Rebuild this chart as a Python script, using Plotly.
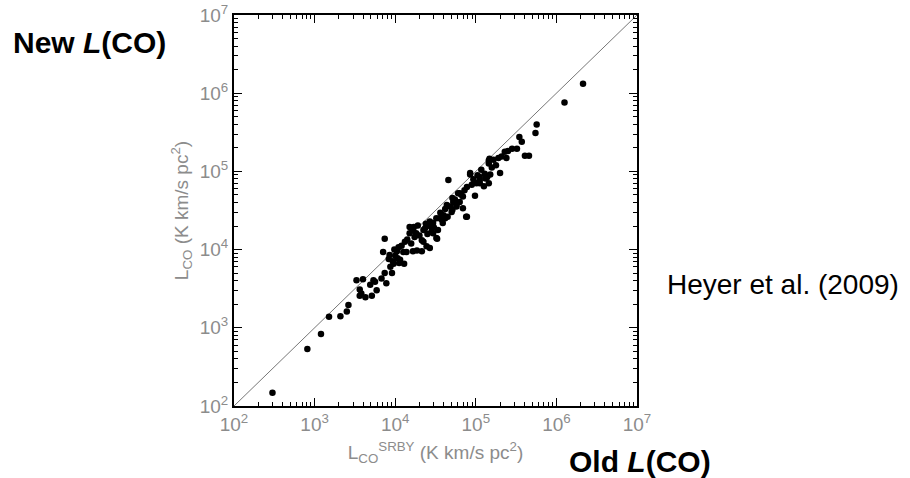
import plotly.graph_objects as go

# Old (SRBY) CO luminosities, K km/s pc^2
old_lco = [300, 813, 1200, 1510, 2090, 2510, 2630, 3310, 3980, 3630,
           3800, 3630, 4270, 5130, 4900, 5370, 5620, 5890, 6760, 7410,
           7760, 9120, 9550, 11200, 12900, 11500, 7410, 7080, 8510, 10000,
           10500, 11000, 9330, 9770, 10700, 12600, 13800, 15800, 16600, 18600,
           21400, 24500, 26900, 15100, 17000, 17400, 19100, 22400, 16600, 18200,
           15100, 21400, 23400, 26900, 32400, 28200, 33100, 39800, 43700, 52500,
           63100, 77600, 85100, 45700, 57500, 77600, 97700, 112000, 138000, 145000,
           26900, 29500, 32400, 35500, 38900, 29500, 33900, 44700, 51300, 57500,
           63100, 69200, 72400, 75900, 69200, 51300, 60300, 102000, 112000, 132000,
           145000, 126000, 138000, 2140000, 1260000, 569000, 550000, 347000, 372000, 407000,
           457000, 324000, 282000, 251000, 229000, 240000, 209000, 191000, 166000, 148000,
           145000, 200000, 117000, 129000, 151000, 112000, 85100, 20000, 24000, 36300,
           41700, 47900, 55000, 66100, 89100, 93300, 105000, 25100, 30200, 38000,
           50100, 12000, 13200, 14100, 8710, 8320, 22400, 41700, 158000, 178000]

# New CO luminosities, K km/s pc^2
new_lco = [148, 537, 832, 1380, 1410, 1620, 1950, 4070, 4170, 3090,
           2750, 2570, 2450, 2570, 3550, 4070, 3890, 3020, 4270, 5010,
           3720, 5010, 6610, 6760, 6610, 7410, 13800, 9330, 8510, 8320,
           9550, 10700, 7080, 10000, 7760, 9330, 9330, 12000, 9550, 9770,
           9550, 11000, 10500, 19500, 19500, 14500, 20400, 17800, 17800, 16200,
           16200, 13200, 18600, 22900, 25100, 17000, 13800, 27500, 37200, 40700,
           52500, 63100, 95500, 77600, 35500, 26300, 49000, 70800, 85100, 138000,
           20000, 16200, 14100, 25100, 21900, 21900, 17800, 26300, 32400, 37200,
           40700, 47900, 57500, 26300, 33900, 45700, 52500, 70800, 77600, 81300,
           70800, 64600, 85100, 1320000, 759000, 398000, 309000, 275000, 240000, 158000,
           158000, 195000, 195000, 182000, 178000, 148000, 155000, 148000, 141000, 145000,
           126000, 95500, 105000, 93300, 91200, 85100, 91200, 15100, 21400, 29500,
           33100, 35500, 43700, 50100, 67600, 79400, 89100, 15800, 19100, 24000,
           30200, 11200, 12600, 13500, 6030, 7590, 12600, 25100, 112000, 120000]

decades = [1e2, 1e3, 1e4, 1e5, 1e6, 1e7]
tick_text = ["10<sup>2</sup>", "10<sup>3</sup>", "10<sup>4</sup>",
             "10<sup>5</sup>", "10<sup>6</sup>", "10<sup>7</sup>"]

grey = "#8c8c8c"
fig = go.Figure()
fig.add_trace(go.Scatter(x=[decades[0], decades[-1]], y=[decades[0], decades[-1]],
                         mode="lines", line=dict(color="#777777", width=1),
                         hoverinfo="skip", showlegend=False))
fig.add_trace(go.Scatter(x=old_lco, y=new_lco, mode="markers",
                         marker=dict(color="black", size=6.5), showlegend=False))

axis_common = dict(
    type="log", range=[2, 7], tickmode="array", tickvals=decades, ticktext=tick_text,
    ticks="inside", ticklen=8, tickwidth=1, tickcolor="black",
    showline=True, linecolor="black", linewidth=2, mirror="ticks",
    showgrid=False, zeroline=False,
    tickfont=dict(family="Liberation Sans", size=19, color=grey),
    minor=dict(ticks="inside", ticklen=4, tickwidth=1, tickcolor="black",
               dtick="D1", showgrid=False),
)

fig.update_layout(
    width=910, height=478,
    margin=dict(l=234, r=273, t=15, b=72, autoexpand=False),
    paper_bgcolor="white", plot_bgcolor="white",
    xaxis=dict(axis_common,
               title=dict(text="L<sub>CO</sub><sup>SRBY</sup> (K km/s pc<sup>2</sup>)",
                          font=dict(family="Liberation Sans", size=19, color=grey),
                          standoff=12)),
    yaxis=dict(axis_common,
               title=dict(text="L<sub>CO</sub> (K km/s pc<sup>2</sup>)",
                          font=dict(family="Liberation Sans", size=19, color=grey),
                          standoff=6)),
    annotations=[
        dict(text="<b>New <i>L</i>(CO)</b>", xref="paper", yref="paper",
             x=-0.553, y=0.93, xanchor="left", yanchor="middle", showarrow=False,
             font=dict(family="Liberation Sans", size=30, color="black")),
        dict(text="Heyer et al. (2009)", xref="paper", yref="paper",
             x=1.07, y=0.31, xanchor="left", yanchor="middle", showarrow=False,
             font=dict(family="Liberation Sans", size=28, color="black")),
        dict(text="<b>Old <i>L</i>(CO)</b>", xref="paper", yref="paper",
             x=0.826, y=-0.142, xanchor="left", yanchor="middle", showarrow=False,
             font=dict(family="Liberation Sans", size=30, color="black")),
    ],
)

fig.write_html("out.html")
